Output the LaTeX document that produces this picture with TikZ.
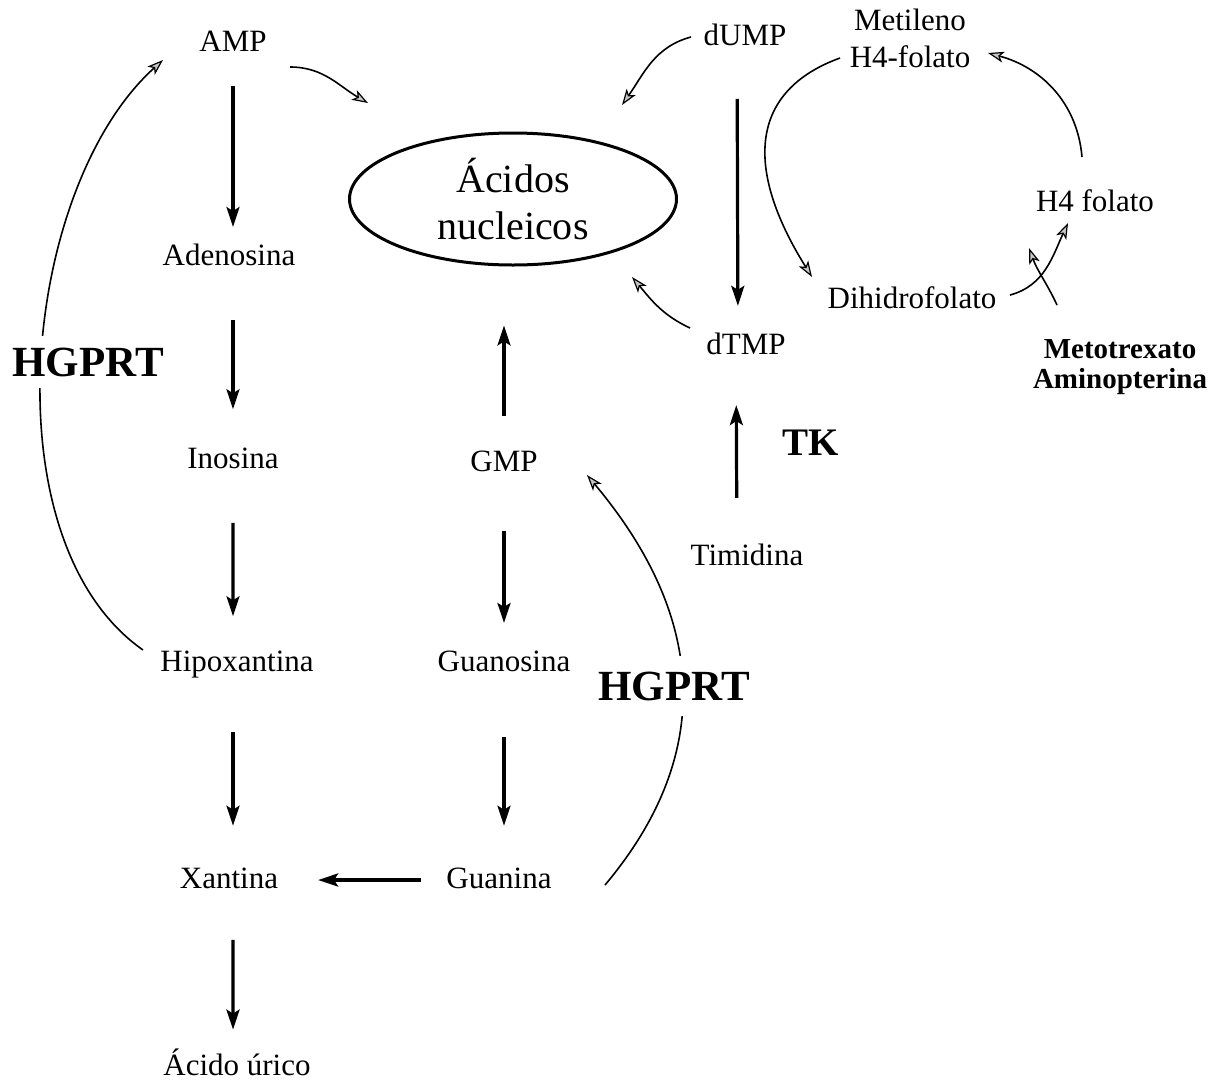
\documentclass[tikz,border=0pt]{standalone}
\usepackage{fontspec}
\setmainfont{Liberation Serif}
\usetikzlibrary{arrows.meta,calc,shapes.geometric}
\tikzset{
  metab/.style={inner sep=0pt,font=\fontsize{15.5}{18}\selectfont,text height=11pt,text depth=3pt},
  metabdos/.style={inner sep=0pt,align=center,font=\fontsize{15.5}{18.5}\selectfont},
  enzima/.style={inner xsep=3pt,inner ysep=6pt,fill=white,font=\fontsize{21.5}{24}\selectfont\bfseries},
  paso/.style={line width=1.6pt,-{Stealth[length=10pt,width=6.5pt,inset=2pt]}},
  curva/.style={line width=0.8pt,-{Stealth[length=8pt,width=5.5pt,inset=2pt,fill=gray!45,line width=0.6pt]}},
}
\begin{document}
\begin{tikzpicture}[x=0.5pt,y=0.5pt]
  \useasboundingbox (0,0) rectangle (1209,-1087);
  % nucleic acids
  \node[ellipse,draw,line width=1.5pt,minimum width=163.5pt,minimum height=66pt,inner sep=0pt,
        align=center,font=\fontsize{20}{23.5}\selectfont] (acidos) at (513,-199) {Ácidos\\nucleicos};
  % purines
  \node[metab] (AMP) at (233,-43) {AMP};
  \node[metab] (adenosina) at (229,-257) {Adenosina};
  \node[metab] (inosina) at (233,-460) {Inosina};
  \node[metab] (hipoxantina) at (237,-663) {Hipoxantina};
  \node[metab] (xantina) at (229,-880) {Xantina};
  \node[metab] (urico) at (237,-1067) {Ácido úrico};
  \node[metab] (GMP) at (504,-463) {GMP};
  \node[metab] (guanosina) at (504,-663) {Guanosina};
  \node[metab] (guanina) at (499,-880) {Guanina};
  % pyrimidines
  \node[metab] (dUMP) at (745,-37) {dUMP};
  \node[metab] (dTMP) at (746,-346) {dTMP};
  \node[metab] (timidina) at (747,-557) {Timidina};
  % folate cycle
  \node[metabdos] (metileno) at (910,-38) {Metileno\\H4-folato};
  \node[metab] (H4) at (1095,-203) {H4 folato};
  \node[metab] (dihidro) at (912,-300) {Dihidrofolato};
  \node[align=center,inner sep=0pt,font=\fontsize{14.5}{15}\selectfont\bfseries] (metotrexato) at (1120,-367) {Metotrexato\\Aminopterina};
  \coordinate (bloqueo) at (1029,-248);
  % degradation steps
  \draw[paso] ($(AMP)!.2!(AMP |- adenosina)$) -- ($(AMP)!.86!(AMP |- adenosina)$);
  \draw[paso] ($(AMP |- adenosina)!.31!(AMP |- inosina)$) -- ($(AMP |- adenosina)!.75!(AMP |- inosina)$);
  \draw[paso] ($(inosina)!.31!(inosina |- hipoxantina)$) -- ($(inosina)!.77!(inosina |- hipoxantina)$);
  \draw[paso] ($(AMP |- hipoxantina)!.32!(AMP |- xantina)$) -- ($(AMP |- hipoxantina)!.75!(AMP |- xantina)$);
  \draw[paso] ($(AMP |- xantina)!.32!(AMP |- urico)$) -- ($(AMP |- xantina)!.8!(AMP |- urico)$);
  \draw[paso] ($(GMP)!.34!(guanosina)$) -- ($(GMP)!.8!(guanosina)$);
  \draw[paso] ($(guanosina)!.34!(guanosina |- guanina)$) -- ($(guanosina)!.75!(guanosina |- guanina)$);
  \draw[paso] ($(guanina)!.29!(xantina)$) -- ($(guanina)!.67!(xantina)$);
  \draw[paso] ($(GMP)!.24!(GMP |- acidos.south)$) -- ($(GMP)!.7!(GMP |- acidos.south)$);
  \draw[paso] ($(dUMP)!.2!(dTMP)+(-8,0)$) -- ($(dUMP)!.87!(dTMP)+(-8,0)$);
  \draw[paso] ($(timidina)!.28!(dTMP)+(-10,0)$) -- ($(timidina)!.72!(dTMP)+(-10,0)$);
  % curved arrows
  \draw[curva] ([shift={(57,-24)}]AMP.center) to[out=0,in=150] ([shift={(-145,96)}]acidos.center);
  \draw[curva] ([shift={(-54,0)}]dUMP.center) to[out=195,in=55] ([shift={(109,94)}]acidos.center);
  \draw[curva] ([shift={(-56,18)}]dTMP.center) to[out=155,in=-50] ([shift={(119,-78)}]acidos.center);
  \draw[curva] ([shift={(-94,13)}]hipoxantina.center) .. controls +(145:190) and +(222:190) .. ([shift={(-70,-17)}]AMP.center);
  \draw[curva] ([shift={(106,-5)}]guanina.center) .. controls +(50:100) and +(-50:250) .. ([shift={(83,-12)}]GMP.center);
  \draw[curva] ([shift={(-70,-20)}]metileno.center) .. controls +(200:95) and +(122:130) .. ([shift={(-100,23)}]dihidro.center);
  \draw[curva] ([shift={(98,5)}]dihidro.center) to[out=15,in=-115] ([shift={(-27,-20)}]H4.center);
  \draw[curva] ([shift={(-13,46)}]H4.center) to[out=95,in=-15] ([shift={(78,-15)}]metileno.center);
  \draw[curva] ([shift={(-63,62)}]metotrexato.center) to[out=115,in=-70] (bloqueo);
  % enzymes
  \node[enzima] (hgprtA) at (88,-362) {HGPRT};
  \node[enzima,inner ysep=8pt] (hgprtB) at (674,-686) {HGPRT};
  \node[enzima,fill=none,font=\fontsize{19.5}{22}\selectfont\bfseries] (TK) at (811,-443) {TK};
\end{tikzpicture}
\end{document}
